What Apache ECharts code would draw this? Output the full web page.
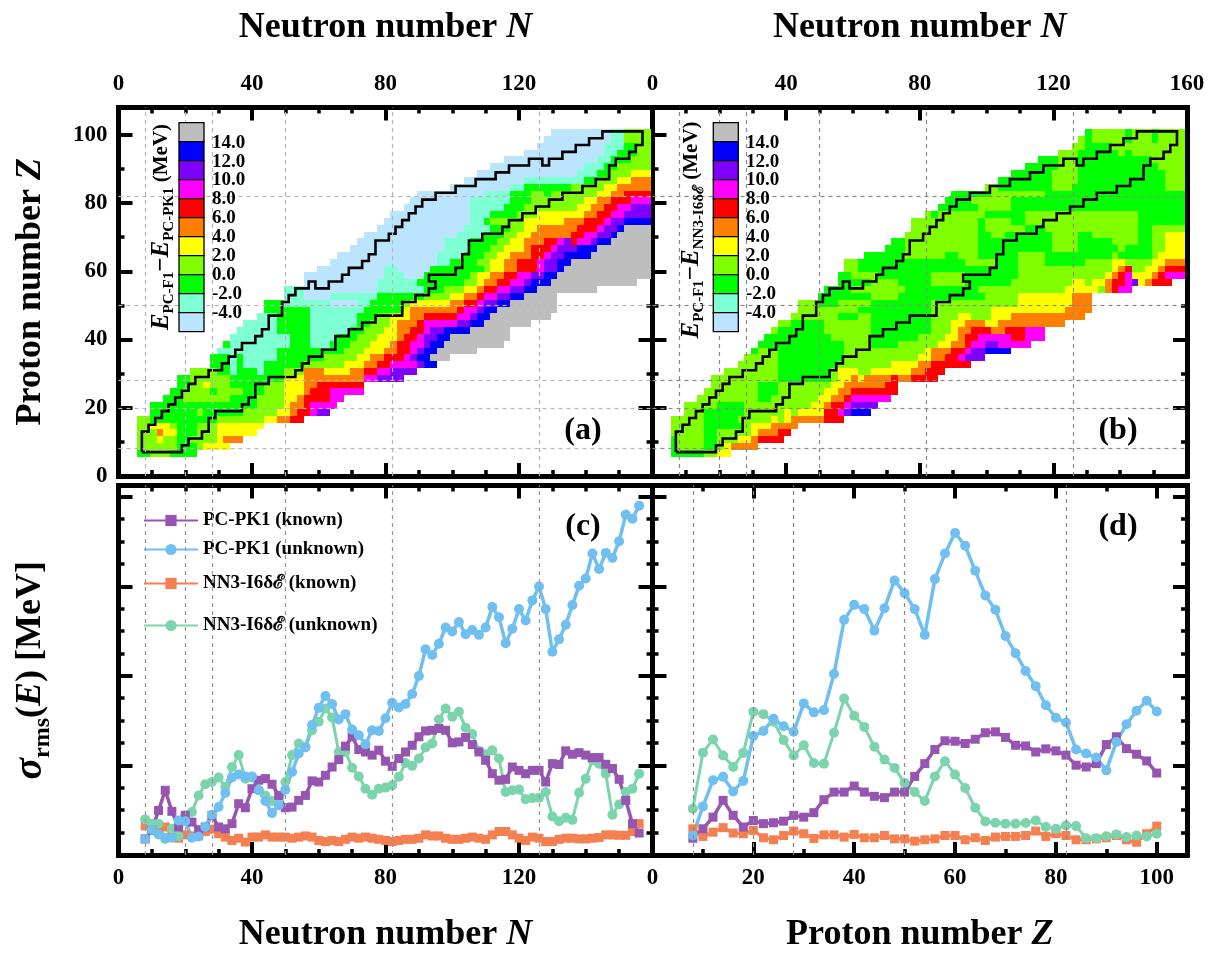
<!DOCTYPE html>
<html><head><meta charset="utf-8">
<script src="https://cdn.jsdelivr.net/npm/echarts@6/dist/echarts.min.js"></script>
<style>html,body{margin:0;padding:0;background:#fff}#c{width:1223px;height:961px}</style>
</head><body><div id="c"></div>
<script>
// ---- data -------------------------------------------------------------
const classValue = {s:-5,a:-3,G:-1,l:1,y:3,o:5,r:7,m:9,p:11,b:13,g:15};
const levelColors = {'-5':'#BBE5FF','-3':'#7FFFD4','-1':'#00FF00','1':'#7FFF00','3':'#FFFF00','5':'#FF8000','7':'#FF0000','9':'#FF00FF','11':'#8000FF','13':'#0000FF','15':'#BEBEBE'};
const colorbarLabels = ['14.0','12.0','10.0','8.0','6.0','4.0','2.0','0.0','-2.0','-4.0'];
const colorbarOrder = [15,13,11,9,7,5,3,1,-1,-3,-5];

// each row: Z = 6+2k ; runs of class letter + column range, N = 6+2i
const heatRowsA = [
"G0-1 l2-4 G5-8","l0-5 G6-8 l9 y10-13","l0-2 y3 l4-5 G6-7 l8-11 y12 o13-15","l0-2 o3 y4-5 G6-8 l9-11 y12-17",
"l0-1 y2-4 l5 G6-8 l9-11 y12-18","l0-1 G2-11 l12-18 y19-20 o21-22 r23-24","G2-8 l9 G10-15 l16-20 y21-22 o23 r24-25 m26 p27-28",
"G2-17 l18-21 y22 o23-24 r25 m26-29","G4-6 l7-13 G14-17 l18-21 y22-23 o24 r25-28 m29-30",
"G5-6 l7-10 G11 l12-15 G16-18 l19-21 y22-24 o25 r26-28 m29-33","G6-7 l8-9 y10 l11-13 G14-18 l19-21 y22-24 o25-26 r27-33",
"G6-7 l8-13 G14-21 y22-24 o25-33 m34-35 p36-39","l8-11 G12-13 a14 G15-17 a18 G19-21 l22-24 o25-27 y28-31 o32-33 r34-35 m36-37 p38-41",
"G11-13 a14 G15 a16-18 G19-24 l25-30 y31-33 o34-35 r36-37 m38-41 p42 b43-44","G11-13 a14 G15 a16-20 G21-27 l28-32 y33-34 o35-36 r37-39 m40 p41 b42-43 g44-46",
"a12-20 G21-30 l31-33 y34-36 o37-38 r39-40 m41 p42 b43-44 g45-50","G13 a14-22 G23-25 a26-28 G29-31 l32-34 y35-37 o38 r39-40 m41-42 p43 b44-45 g46-54",
"a14-22 G23-25 a26-29 G30-32 l33-35 y36-38 o39 r40-41 m42 p43-44 b45-46 g47-55","a15-20 G21-25 a26-31 G32-33 l34-36 y37-38 o39-40 r41-42 m43 p44-45 b46-49 g50-55",
"a16-20 G21-25 a26-32 G33-34 l35-37 y38 o39-41 r42 m43-47 p48-49 b50-51 g52-58","a18-20 G21-25 a26-32 G33-35 l36-37 y38-40 o41-42 r43-47 m48-49 p50 b51-52 g53-61",
"G19-25 a26-33 G34-39 y40 o41-47 r48 m49-50 p51 b52-53 g54-62","G19-21 a22-28 s29-32 a33-34 G35-39 l40 y41-46 o47-48 r49-50 m51 p52-53 b54-55 g56-62",
"a22-24 s25-28 a29-35 G36-42 l43-46 y47-48 o49-50 r51 m52-53 p54-55 b56-57 g58-62","a22-24 s25-35 a36-42 G43-45 l46-48 y49-50 o51 r52-53 m54-55 p56-57 b58-59 g60-68",
"s25-35 a36-41 G42-48 l49-50 y51 o52-53 r54-55 m56-57 p58 b59-61 g62-74","s25-36 a37-39 s40-42 G43-49 l50 y51-52 o53-54 r55-56 m57-58 p59-60 b61-62 g63-76",
"s27-36 a37-38 s39-43 G44-51 l52 y53-54 o55-56 r57-59 m60 p61-62 b63 g64-76","s29-44 a45-46 G47-50 l51-52 y53-54 o55-56 r57-59 m60 p61-62 b63-64 g65-76",
"s30-44 a45-48 G49-51 l52-53 y54-55 o56-58 r59-60 m61 p62-63 b64-67 g68-76","s32-45 a46-49 G50-52 l53-54 y55-57 o58 r59-61 m62 p63-65 b66-68 g69-76",
"s33-45 a46-49 G50-53 l54-55 y56-57 o58-60 r61-62 m63 p64 r65 m66-67 p68 b69-70 g71-76","s34-47 a48-51 G52-54 l55-56 y57-58 o59-64 r65-66 m67-68 p69-70 b71 g72-76",
"s36-48 a49-52 G53-55 l56-57 y58-59 o60-65 r66-68 m69 p70-71 b72 g73-76","s37-49 a50-51 G52 l53-57 y58-63 o64-66 r67-69 m70 p71-72 b73-76",
"s38-49 a50-52 G53-56 l57-59 y60-66 o67-68 r69-70 m71-72 p73-76","s40-49 a50-54 G55-57 l58-65 y66-67 o68-69 r70-71 m72-73 p74-76",
"s41-49 a50-55 G56-58 l59-66 y67-68 o69-70 r71-73 m74-76","s42-51 a52-55 G56-58 l59-60 G61 l62-68 y69-70 o71-72 r73-76",
"s47-55 a56-57 G58-64 l65-69 y70-71 o72-76","s49-57 a58-66 G67-68 l69-71 y72-73 o74-76","s51-65 a66-68 G69-70 l71-73 y74-76",
"s53-66 a67-69 G70-71 l72-76","s55-68 a69-70 G71-73 l74-76","s58-69 a70-71 G72-74 l75-76","s60-69 a70-72 G73-74 l75-76","s61-70 a71-72 l73-76","s62-70 a71-72 l73-76"
];
const heatRowsB = [
"G0-4 l5-6 y7-8","G0 l1-4 G5-6 l7 y8 o9-12","G0 l1-4 G5-6 l7-9 y10-11 o12 r13-16","l0-4 G5-6 l7-11 y12 o13-15 r16-17","l0-4 G5-10 l11 y12-14 o15-18",
"l0-4 G5-9 l10-14 y15 l16 y17 o18-22 r23-25","l2-4 G5-10 l11-16 y17 l18 y19-22 r23-24 m25 p26 b27-29","l2-6 G7-10 l11-20 y21-22 o23 r24-25 m26 p27-30",
"l4-12 G13-14 l15-21 y22-23 o24-25 r26 m27-32","l5-12 G13-15 l16-22 y23-24 o25-26 r27-33","l6-12 G13-15 l16-23 y24-25 o26-31 r32-33",
"l6-15 G16-23 l24 y25-26 o27 y28 o29-32 r33 o34-35 r36-39","l8-15 G16-23 l24 y25-27 l28-29 y30-35 o36-37 r38-40","l10-15 G16-24 l25-32 y33-36 o37-38 r39-44",
"l11-15 G16-25 l26-36 y37-38 o39-40 r41-42 m43 p44-46","G12 l13-15 G16-25 l26-37 y38 o39-41 r42-43 m44 p45-46 b47-50","G13-25 l26-29 G30-33 l34-39 y40-41 o42-43 r44 m45-46 p47-48 m49-53",
"G14-23 l24-29 G30-36 l37-40 y41-42 o43 r44-45 m46-50 r51-52 m53-55","l15 G16-22 l23-29 G30-38 l39-41 y42 o43-44 r45-47 o48-49 r50-52 m53-55",
"l16-17 G18-22 l23-29 G30-38 l39-41 y42-43 o44-46 y47-48 o49-58","l18-24 G25-27 l28-29 G30-38 l39-42 y43-44 l45-47 y48-50 o51-61","l19-27 G28-38 l39-47 y48-58 o59-62",
"l19-21 G22-24 l25-29 G30-38 l39-51 y52-59 o60-62","G22-29 l30-33 G34-46 l47-51 y52-59 o60-62","G23-26 l27-34 G35-45 l46-58 y59-63 l64 o65 r66 m67-68",
"G25-29 l30-33 G34-38 l39-43 G44-50 l51-59 y60-61 l62 y63-64 o65 r66-67 m68 p69 y70 o71 r72-74","G25-26 l27-30 G31-38 l39-43 G44-51 l52-64 y65 o66 r67 m68 y69-71 o72 r73 m74-76",
"l26-27 G28-51 l52-65 y66 o67 r68 l69-70 y71-72 o73 r74-76","l26-27 G28-43 l44-48 G49-51 l52-55 G56-61 l62-65 y66-67 l68-71 y72-73 o74-76",
"G29-34 l35-40 G41-42 l43-45 G46-51 l52-55 G56-65 l66 G67-71 l72 y73-76","G32-34 l35-45 G46-56 l57-60 G61-66 l67 G68-71 l72-73 y74-76",
"G33-34 l35-45 G46-56 l57-60 G61-65 l66-69 G70-71 l72-73 y74-76","l35-45 G46-47 l48-49 G50-56 l57-60 G61-62 l63-69 G70-71 l72-73 y74-76",
"l36-45 G46 l47-52 G53-55 l56-69 G70-71 l72-76","l36-45 G46 l47-50 G51-52 l53-69 G70-76","l38 G39 l40-46 G47-52 l53-69 G70-76","G40-45 l46-50 G51-76","G41-44 l45-50 G51-76",
"G42-47 l48-55 G56-76","l47-48 G49-56 l57-59 G60-73 l74-76","G49-56 l57-60 G61-73 l74-76","G51-56 l57-60 G61-73 l74-76","G53-57 l58-60 G61-72 l73-76",
"G55-57 l58-60 G61-71 l72-76","l58-60 G61-66 l67 G68 l69-76","l60-61 G62-65 l66-76","l61 G62 l63-67 G68 l69-71 G72 l73-76","G62 l63-67 G68 l69-71 G72 l73-76"
];
// outline of the known nuclei [N,Z]
const knownOutline = [[7,7],[7,13],[9,13],[9,15],[11,15],[11,17],[13,17],[13,19],[15,19],[15,21],[17,21],[17,23],[19,23],[19,25],[21,25],[21,27],[23,27],[23,29],[27,29],[27,31],[31,31],[31,33],[33,33],[33,35],[35,35],[35,37],[37,37],[37,39],[41,39],[41,41],[43,41],[43,43],[45,43],[45,47],[49,47],[49,51],[51,51],[51,53],[53,53],[53,55],[57,55],[57,57],[59,57],[59,55],[63,55],[63,57],[67,57],[67,59],[69,59],[69,61],[73,61],[73,63],[75,63],[75,65],[77,65],[77,69],[81,69],[81,71],[83,71],[83,73],[85,73],[85,75],[87,75],[87,77],[89,77],[89,79],[91,79],[91,81],[95,81],[95,83],[101,83],[101,85],[107,85],[107,87],[113,87],[113,89],[117,89],[117,91],[123,91],[123,93],[127,93],[127,91],[129,91],[129,93],[133,93],[133,95],[137,95],[137,97],[141,97],[141,99],[145,99],[145,101],[157,101],[157,97],[155,97],[155,95],[153,95],[153,93],[149,93],[149,91],[147,91],[147,87],[143,87],[143,85],[139,85],[139,83],[133,83],[133,81],[129,81],[129,79],[125,79],[125,77],[121,77],[121,75],[117,75],[117,73],[115,73],[115,71],[109,71],[109,69],[105,69],[105,65],[103,65],[103,61],[101,61],[101,59],[93,59],[93,57],[95,57],[95,55],[93,55],[93,53],[89,53],[89,51],[85,51],[85,47],[77,47],[77,45],[73,45],[73,43],[69,43],[69,41],[65,41],[65,37],[61,37],[61,35],[57,35],[57,33],[55,33],[55,31],[53,31],[53,29],[45,29],[45,27],[41,27],[41,23],[39,23],[39,21],[37,21],[37,19],[29,19],[29,17],[27,17],[27,13],[25,13],[25,11],[21,11],[21,9],[19,9],[19,7],[7,7]];
const magicN = [8,20,28,50,82,126];
const magicZ = [8,20,28,50,82];

const neutronAxis = [8,10,12,14,16,18,20,22,24,26,28,30,32,34,36,38,40,42,44,46,48,50,52,54,56,58,60,62,64,66,68,70,72,74,76,78,80,82,84,86,88,90,92,94,96,98,100,102,104,106,108,110,112,114,116,118,120,122,124,126,128,130,132,134,136,138,140,142,144,146,148,150,152,154,156];
const protonAxis = [8,10,12,14,16,18,20,22,24,26,28,30,32,34,36,38,40,42,44,46,48,50,52,54,56,58,60,62,64,66,68,70,72,74,76,78,80,82,84,86,88,90,92,94,96,98,100];

const pk1KnownN = [.22,.60,1.49,2.39,1.45,.75,1.27,.97,.63,.75,1.27,.75,.67,.90,1.79,1.61,2.46,2.84,2.91,2.66,2.16,1.61,1.64,1.94,2.16,2.81,2.76,3.06,3.43,3.76,4.36,4.78,4.21,4.10,3.96,4.18,3.69,3.46,3.81,4.10,4.40,4.78,5.04,5.07,5.15,5.07,4.51,4.55,4.75,4.43,4.10,3.73,3.13,2.84,2.88,3.43,3.28,3.13,3.28,3.28,2.76,3.58,3.54,4.15,4.00,4.07,3.96,3.85,3.85,3.55,3.36,2.88,1.94,.90,.48];
const pk1UnknownN = [.22,.63,.42,.27,.27,1.04,1.01,.27,.33,.75,1.30,1.64,2.27,2.96,3.10,3.01,3.01,2.39,1.91,1.37,1.72,2.42,3.21,4.03,4.30,5.30,6.07,6.60,6.24,5.55,5.79,5.10,4.85,4.45,5.07,5.04,5.61,6.30,6.09,6.24,6.69,7.49,8.69,8.43,8.93,9.66,9.48,9.90,9.36,9.55,9.33,9.66,10.57,10.12,8.96,9.60,10.48,9.97,10.87,11.49,10.48,8.58,9.13,9.78,10.66,11.52,11.85,12.96,12.27,12.99,12.76,13.51,14.70,14.52,15.10];
const nn3KnownN = [.8,.75,.6,.75,.5,.25,.4,.35,.35,.55,.65,.45,.3,.15,.25,.08,.3,.3,.4,.3,.3,.3,.25,.3,.35,.3,.15,.1,.15,.1,.2,.3,.25,.3,.25,.2,.15,.1,.15,.2,.2,.25,.4,.35,.35,.25,.2,.2,.25,.3,.25,.2,.4,.55,.55,.4,.25,.15,.3,.25,.1,.1,.2,.25,.25,.22,.22,.25,.28,.4,.4,.38,.38,.55,.9];
const nn3UnknownN = [1.09,.9,.9,.22,.67,.34,1.27,1.42,2.16,2.66,2.76,2.96,2.54,3.43,3.96,2.91,2.96,2.4,2.16,1.91,1.94,2.76,3.96,4.48,4.33,5.07,5.45,6.04,5.64,4.10,4.10,3.40,3.01,2.46,2.19,2.46,2.51,2.61,2.99,3.61,3.48,3.81,4.30,4.48,5.55,6.04,5.67,5.90,5.18,4.90,4.15,4.00,4.18,3.81,2.31,2.39,2.42,1.99,2.04,2.06,2.31,1.22,1.01,1.16,1.07,2.28,2.91,3.73,3.58,3.13,1.30,1.76,2.31,2.46,3.13];

const pk1KnownZ = [.25,.67,1.19,1.94,1.27,.75,1.04,.90,.94,1.01,1.27,1.19,1.39,1.97,2.31,2.31,2.58,2.31,2.12,2.06,2.31,2.31,3.01,3.58,4.21,4.60,4.58,4.48,4.67,4.96,5.0,4.75,4.40,4.37,4.10,4.24,4.15,3.96,3.51,3.43,3.58,4.43,4.78,4.25,4.00,3.70,3.16];
const pk1UnknownZ = [.37,1.67,2.84,2.99,2.34,2.81,4.81,5.04,5.58,5.25,5.0,6.27,5.87,5.97,7.58,10.0,10.67,10.48,9.52,10.52,11.76,11.19,10.48,9.33,11.82,12.96,13.88,13.31,12.19,11.09,10.45,9.28,8.51,7.72,7.04,6.19,5.63,5.42,4.21,4.03,3.85,3.28,4.55,5.34,5.94,6.39,5.91];
const nn3KnownZ = [.67,.33,.52,.72,.48,.45,.60,.27,.18,.37,.57,.45,.24,.40,.40,.30,.42,.27,.27,.37,.22,.22,.12,.18,.22,.37,.37,.18,.27,.15,.30,.33,.33,.37,.57,.33,.45,.37,.18,.18,.22,.27,.37,.18,.07,.45,.79];
const nn3UnknownZ = [1.57,4.07,4.66,3.94,3.43,4.06,5.90,5.79,5.45,4.63,3.94,4.40,3.61,3.58,4.96,6.49,5.72,5.22,4.33,3.76,3.39,2.72,2.31,1.91,3.01,3.69,3.09,2.49,1.61,1.0,.94,.90,.90,.93,1.04,.75,.67,.82,.79,.25,.25,.34,.42,.30,.37,.33,.45];

const neutronTicks = [0,40,80,120];
const protonTicks = [0,20,40,60,80,100];
const sigmaTicks = [0,4,8,12];

// ---- helpers ------------------------------------------------------------
const FONT = '"Liberation Serif","Times New Roman",serif';
const FONT2 = '"Liberation Serif","DejaVu Serif",serif';
function decodeRows(rows){
  const out=[];
  rows.forEach((row,k)=>{
    row.split(' ').forEach(t=>{
      const m=t.match(/^([a-zA-Z])(\d+)(?:-(\d+))?$/);
      const a=+m[2], b=m[3]===undefined?a:+m[3];
      for(let i=a;i<=b;i++) out.push([6+2*i,6+2*k,classValue[m[1]]]);
    });
  });
  return out;
}
function renderCell(params,api){
  const p0=api.coord([api.value(0)-0.55,api.value(1)-0.35]);
  const p1=api.coord([api.value(0)+1.45,api.value(1)+1.65]);
  const x0=Math.round(p0[0]),x1=Math.round(p1[0]),y0=Math.round(p1[1]),y1=Math.round(p0[1]);
  return {type:'rect',shape:{x:x0,y:y0,width:x1-x0,height:y1-y0},style:{fill:levelColors[String(api.value(2))]}};
}
const richName = {
  b:{fontFamily:FONT,fontWeight:'bold',fontSize:36,color:'#000'},
  i:{fontFamily:FONT,fontWeight:'bold',fontStyle:'italic',fontSize:36,color:'#000'},
  g:{fontFamily:FONT,fontWeight:'bold',fontStyle:'italic',fontSize:40,color:'#000',lineHeight:48},
  s:{fontFamily:FONT,fontWeight:'bold',fontSize:24,color:'#000',verticalAlign:'bottom',lineHeight:26}
};
const grids=[
 {left:118.5,top:107.5,width:534,height:368.5},
 {left:652.5,top:107.5,width:534.5,height:368.5},
 {left:118.5,top:485.5,width:534,height:369.5},
 {left:652.5,top:485.5,width:534.5,height:369.5}
];
function axisBase(gridIndex,position,min,max,interval,split,labelSet,extra){
  const isY=position==='left'||position==='right';
  return Object.assign({
    type:'value',gridIndex,position,min,max,interval,
    splitLine:{show:false},
    axisLine:{show:true,onZero:false,lineStyle:{color:'#000',width:5,cap:'square'}},
    axisTick:{show:true,inside:true,length:isY?14:13,lineStyle:{color:'#000',width:4}},
    minorTick:{show:true,splitNumber:split,length:6,lineStyle:{color:'#000',width:3.5}},
    minorSplitLine:{show:false},
    axisLabel:{show:!!labelSet,margin:isY?11:12,color:'#000',fontFamily:FONT,fontWeight:'bold',fontSize:23,hideOverlap:false,
      showMinLabel:true,showMaxLabel:true,
      formatter:v=>labelSet&&labelSet.indexOf(v)>=0?String(v):''}
  },extra||{});
}
const xAxes=[
 axisBase(0,'top',0,160,40,4,neutronTicks,{name:'{b|Neutron number }{i|N}',nameLocation:'middle',nameGap:62,nameTextStyle:{rich:richName}}),
 axisBase(0,'bottom',0,160,40,4,null),
 axisBase(1,'top',0,160,40,4,neutronTicks.concat([160]),{name:'{b|Neutron number }{i|N}',nameLocation:'middle',nameGap:62,nameTextStyle:{rich:richName}}),
 axisBase(1,'bottom',0,160,40,4,null),
 axisBase(2,'top',0,160,40,4,null),
 axisBase(2,'bottom',0,160,40,4,neutronTicks,{name:'{b|Neutron number }{i|N}',nameLocation:'middle',nameGap:62,nameTextStyle:{rich:richName}}),
 axisBase(3,'top',0,106,20,2,null),
 axisBase(3,'bottom',0,106,20,2,protonTicks,{name:'{b|Proton number }{i|Z}',nameLocation:'middle',nameGap:62,nameTextStyle:{rich:richName}})
];
const yAxes=[
 axisBase(0,'left',0,108,20,2,protonTicks,{name:'{b|Proton number }{i|Z}',nameLocation:'middle',nameGap:70,nameTextStyle:{rich:richName}}),
 axisBase(0,'right',0,108,20,2,null),
 axisBase(1,'left',0,108,20,2,null),
 axisBase(1,'right',0,108,20,2,null),
 axisBase(2,'left',-0.5,16,4,4,sigmaTicks,{name:'{g|σ}{s|rms}{b|(}{i|E}{b|) [MeV]}',nameLocation:'middle',nameGap:64,nameTextStyle:{rich:richName}}),
 axisBase(2,'right',-0.5,16,4,4,null),
 axisBase(3,'left',-0.5,16,4,4,null),
 axisBase(3,'right',-0.5,16,4,4,null)
];
function magicMark(xs,ys,color){
  return {silent:true,symbol:'none',animation:false,label:{show:false},
    lineStyle:{color,type:[4,4],width:1.2},
    data:xs.map(v=>({xAxis:v})).concat(ys.map(v=>({yAxis:v})))};
}
function heatSeries(rows,idx){
  const d=decodeRows(rows);
  return {type:'custom',name:'heat'+idx,xAxisIndex:idx*2,yAxisIndex:idx*2,renderItem:renderCell,data:d,encode:{x:0,y:1},silent:true,z:1,animation:false};
}
function outlineSeries(idx,color){
  return {type:'line',name:'outline'+idx,xAxisIndex:idx*2,yAxisIndex:idx*2,data:knownOutline,showSymbol:false,symbol:'none',silent:true,z:4,animation:false,
    lineStyle:{color:'#000',width:2.6,join:'miter'},markLine:magicMark(magicN,magicZ,color)};
}
const seriesStyle={
 'PC-PK1 (known)':{color:'#9555B0',symbol:'rect',size:9,w:3.5},
 'PC-PK1 (unknown)':{color:'#6FC0F0',symbol:'circle',size:10,w:3.5},
 'NN3-I6δℰ (known)':{color:'#F47F50',symbol:'rect',size:9,w:3.2},
 'NN3-I6δℰ (unknown)':{color:'#7BD4AC',symbol:'circle',size:10,w:3}
};
function lineSeries(name,xs,vals,idx,mark){
  const st=seriesStyle[name];
  return Object.assign({type:'line',name,xAxisIndex:idx*2,yAxisIndex:idx*2,data:xs.map((x,i)=>[x,vals[i]]),symbol:st.symbol,symbolSize:st.size,showSymbol:true,
    showAllSymbol:true,itemStyle:{color:st.color},lineStyle:{color:st.color,width:st.w},silent:true,z:3,animation:false,clip:false},
    mark?{markLine:mark}:{});
}
const series=[
 heatSeries(heatRowsA,0),outlineSeries(0,'#b5b5b5'),
 heatSeries(heatRowsB,1),outlineSeries(1,'#8a8a8a'),
 lineSeries('NN3-I6δℰ (known)',neutronAxis,nn3KnownN,2,magicMark(magicN,[],'#999')),
 lineSeries('NN3-I6δℰ (unknown)',neutronAxis,nn3UnknownN,2),
 lineSeries('PC-PK1 (known)',neutronAxis,pk1KnownN,2),
 lineSeries('PC-PK1 (unknown)',neutronAxis,pk1UnknownN,2),
 lineSeries('NN3-I6δℰ (known)',protonAxis,nn3KnownZ,3,magicMark(magicZ,[],'#8a8a8a')),
 lineSeries('NN3-I6δℰ (unknown)',protonAxis,nn3UnknownZ,3),
 lineSeries('PC-PK1 (known)',protonAxis,pk1KnownZ,3),
 lineSeries('PC-PK1 (unknown)',protonAxis,pk1UnknownZ,3)
];
const legendRows=[['PC-PK1 (known)',511],['PC-PK1 (unknown)',540],['NN3-I6δℰ (known)',574],['NN3-I6δℰ (unknown)',616]];
const legends=legendRows.map(([name,top])=>({data:[name],left:143,top,itemWidth:54,itemHeight:14,itemGap:4,padding:0,selectedMode:false,
  textStyle:{fontFamily:FONT2,fontWeight:'bold',fontSize:19,color:'#000'}}));

// colour bars and in-plot text
const graphics=[];
function colorbar(x,labelX){
  colorbarOrder.forEach((v,i)=>{
    graphics.push({type:'rect',silent:true,z:20,shape:{x,y:122.7+19*i,width:25,height:19},style:{fill:levelColors[String(v)],stroke:'#000',lineWidth:1.3}});
  });
  colorbarLabels.forEach((t,i)=>{
    graphics.push({type:'text',silent:true,z:20,x:labelX,y:142.7+18.9*i,style:{text:t,fill:'#000',font:'bold 19px '+FONT,verticalAlign:'middle',align:'left'}});
  });
}
colorbar(179,212);colorbar(713.3,746);
function rotatedTitle(x,y,text){
  graphics.push({type:'text',silent:true,z:20,x,y,rotation:Math.PI/2,style:{text,align:'center',verticalAlign:'middle',fill:'#000',
    rich:{e:{fontFamily:FONT,fontStyle:'italic',fontWeight:'bold',fontSize:25,lineHeight:30,fill:'#000'},
      s:{fontFamily:FONT2,fontWeight:'bold',fontSize:15,verticalAlign:'bottom',lineHeight:20,fill:'#000'},
      m:{fontFamily:FONT,fontWeight:'bold',fontSize:25,lineHeight:30,fill:'#000'},
      u:{fontFamily:FONT,fontWeight:'bold',fontSize:21,lineHeight:30,fill:'#000'}}}});
}
rotatedTitle(162,227,'{e|E}{s|PC-F1}{m|−}{e|E}{s|PC-PK1}{u| (MeV)}');
rotatedTitle(692,230,'{e|E}{s|PC-F1}{m|−}{e|E}{s|NN3-I6δℰ}{u| (MeV)}');
[['(a)',583,431],['(b)',1118,431],['(c)',583,527],['(d)',1118,527]].forEach(([t,x,y])=>{
  graphics.push({type:'text',silent:true,z:20,x,y,style:{text:t,fill:'#000',font:'bold 32px '+FONT,align:'center',verticalAlign:'middle'}});
});

const chart=echarts.init(document.getElementById('c'),null,{renderer:'canvas',width:1223,height:961});
chart.setOption({animation:false,backgroundColor:'#fff',grid:grids,xAxis:xAxes,yAxis:yAxes,legend:legends,series,graphic:graphics,tooltip:{show:false}});
</script></body></html>
